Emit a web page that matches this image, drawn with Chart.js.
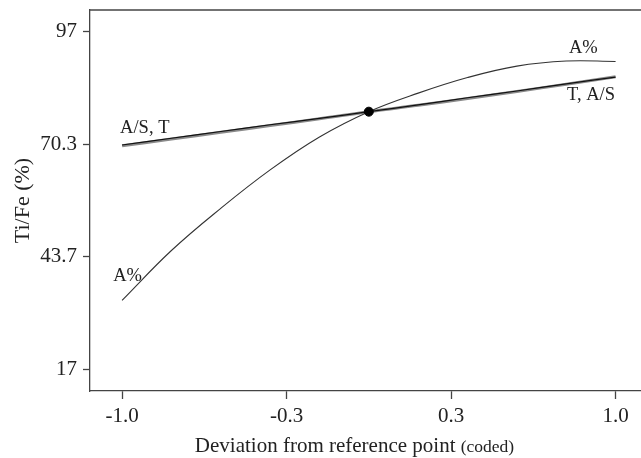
<!DOCTYPE html>
<html>
<head>
<meta charset="utf-8">
<script src="https://cdn.jsdelivr.net/npm/chart.js@4.4.1/dist/chart.umd.min.js"></script>
<style>
  html, body { margin: 0; padding: 0; background: #fff; }
  canvas { display: block; }
</style>
</head>
<body>
<canvas id="perturbation" width="641" height="458"></canvas>
<script>
// deviation from reference point (coded)
const deviation = [-1, -0.8, -0.6, -0.4, -0.2, 0, 0.2, 0.4, 0.6, 0.8, 1];
const aPercent = [33.4, 45.2, 55.2, 64.3, 72.1, 78.1, 82.5, 86.2, 88.9, 90.1, 90.0];
const tempT = [70.2, 71.8, 73.4, 75.0, 76.5, 78.1, 79.7, 81.4, 83.0, 84.7, 86.3];
const ratioAS = [70.0, 71.6, 73.2, 74.8, 76.4, 78.1, 79.6, 81.2, 82.9, 84.6, 86.4];
const refX = [0];
const refY = [78.1];

const xTicks = [-1, -1 / 3, 1 / 3, 1];
const xTickLabels = ['-1.0', '-0.3', '0.3', '1.0'];
const yTicks = [17, 43.667, 70.333, 97];
const yTickLabels = ['17', '43.7', '70.3', '97'];

// curve names, anchored in data units (left / baseline)
const curveNames = ['A/S, T', 'A%', 'A%', 'T, A/S'];
const curveNameX = [-1.008, -1.036, 0.811, 0.803];
const curveNameY = [73.05, 37.9, 92.0, 80.9];

const serif = '"Liberation Serif", "Times New Roman", serif';
const toPoints = (xs, ys) => xs.map((x, i) => ({ x: x, y: ys[i] }));

const extras = {
  id: 'extras',
  afterDraw(chart) {
    const { ctx, chartArea, scales } = chart;
    ctx.save();
    // top frame line
    ctx.strokeStyle = '#444';
    ctx.lineWidth = 1.3;
    ctx.beginPath();
    ctx.moveTo(chartArea.left, chartArea.top);
    ctx.lineTo(chartArea.right, chartArea.top);
    ctx.stroke();

    // names next to the curves
    ctx.fillStyle = '#222';
    ctx.textBaseline = 'alphabetic';
    ctx.textAlign = 'left';
    ctx.font = '18.5px ' + serif;
    curveNames.forEach((t, i) => {
      ctx.fillText(t, scales.x.getPixelForValue(curveNameX[i]), scales.y.getPixelForValue(curveNameY[i]));
    });

    // x axis title, two sizes
    const main = 'Deviation from reference point ';
    const small = '(coded)';
    ctx.font = '21px ' + serif;
    const w1 = ctx.measureText(main).width;
    ctx.font = '17.5px ' + serif;
    const w2 = ctx.measureText(small).width;
    const cx = (chartArea.left + chartArea.right) / 2 - 11;
    const x0 = cx - (w1 + w2) / 2;
    const by = chartArea.bottom + 60.5;
    ctx.font = '21px ' + serif;
    ctx.fillText(main, x0, by);
    ctx.font = '17.5px ' + serif;
    ctx.fillText(small, x0 + w1, by);
    ctx.restore();
  }
};

const ctxPerturbation = document.getElementById('perturbation');

const chartPerturbation = new Chart(ctxPerturbation, {
  type: 'scatter',
  data: {
    datasets: [
      {
        label: 'reference point',
        data: toPoints(refX, refY),
        pointRadius: 4.5,
        pointBackgroundColor: '#000',
        pointBorderColor: '#000',
        showLine: false,
        order: 0
      },
      {
        label: 'T',
        data: toPoints(deviation, tempT),
        showLine: true,
        borderColor: '#111',
        borderWidth: 1.2,
        pointRadius: 0,
        tension: 0.4,
        order: 1
      },
      {
        label: 'A%',
        data: toPoints(deviation, aPercent),
        showLine: true,
        borderColor: '#333',
        borderWidth: 1.1,
        pointRadius: 0,
        tension: 0.4,
        order: 2
      },
      {
        label: 'A/S',
        data: toPoints(deviation, ratioAS),
        showLine: true,
        borderColor: '#8a8a8a',
        borderWidth: 3,
        pointRadius: 0,
        tension: 0.4,
        order: 3
      }
    ]
  },
  options: {
    responsive: false,
    animation: false,
    layout: { autoPadding: false, padding: { top: 10, right: 0, bottom: 0, left: 0 } },
    plugins: {
      legend: { display: false },
      tooltip: { enabled: false }
    },
    scales: {
      x: {
        type: 'linear',
        min: -1.13,
        max: 1.103,
        afterFit: (scale) => {
          scale.height = 67;
          scale.paddingLeft = 0;
          scale.paddingRight = 0;
        },
        afterBuildTicks: (scale) => { scale.ticks = xTicks.map(v => ({ value: v })); },
        ticks: {
          callback: (value, index) => xTickLabels[index],
          font: { family: serif, size: 21 },
          color: '#222',
          padding: 5,
          maxRotation: 0,
          autoSkip: false
        },
        grid: { drawOnChartArea: false, tickLength: 8, color: '#444', tickWidth: 1.3 },
        border: { color: '#444', width: 1.3 }
      },
      y: {
        min: 11.9,
        max: 102.2,
        afterFit: (scale) => {
          scale.width = 90;
          scale.paddingTop = 0;
          scale.paddingBottom = 0;
        },
        afterBuildTicks: (scale) => { scale.ticks = yTicks.map(v => ({ value: v })); },
        ticks: {
          callback: (value, index) => yTickLabels[index],
          font: { family: serif, size: 21 },
          color: '#222',
          padding: 6,
          autoSkip: false
        },
        grid: { drawOnChartArea: false, tickLength: 7, color: '#444', tickWidth: 1.3 },
        border: { color: '#444', width: 1.3 },
        title: {
          display: true,
          text: 'Ti/Fe (%)',
          font: { family: serif, size: 22 },
          color: '#222',
          padding: { top: 10, bottom: 0 }
        }
      }
    }
  },
  plugins: [extras]
});
</script>
</body>
</html>
